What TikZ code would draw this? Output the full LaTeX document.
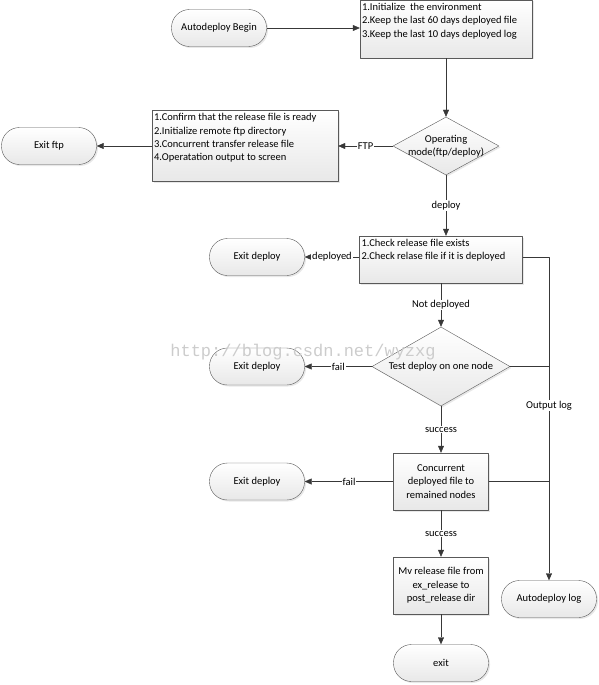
\documentclass[tikz,border=0pt]{standalone}
\usepackage{fontspec}
\setmainfont{Carlito}
\newfontfamily\markfont{Liberation Mono}
\usetikzlibrary{positioning,arrows.meta,shapes.geometric,shadows}
\tikzset{
  >={Triangle[length=7pt,width=6pt]},
  shade box/.style ={draw=black!65, top color=white, bottom color=black!9,
                     drop shadow={opacity=0.18, shadow xshift=1.5pt, shadow yshift=-1.5pt}},
  stepbox/.style   ={shade box, rectangle, inner sep=0pt},
  endcap/.style    ={shade box, rectangle, rounded corners=18pt, minimum width=95pt,
                     minimum height=37pt, font=\fontsize{10.5}{13.5}\selectfont},
  choice/.style    ={shade box, diamond, inner sep=0pt},
  steptext/.style  ={anchor=north west, align=left, inner xsep=2pt, inner ysep=3pt,
                     font=\fontsize{10.5}{13.4}\selectfont},
  midtext/.style   ={align=center, inner sep=0pt, font=\fontsize{10.5}{13.5}\selectfont},
  flow/.style      ={draw=black!78, ->},
  tag/.style       ={fill=white, inner sep=1pt, font=\fontsize{10.5}{12}\selectfont},
}

\begin{document}
\begin{tikzpicture}[x=1pt, y=-1pt, line join=round]
  \useasboundingbox (0,0) rectangle (599,685);

  %--- Start and set-up ---
  \node[endcap] (begin) at (219,28) {Autodeploy Begin};
  \node[stepbox, minimum width=172pt, minimum height=58pt] (setup) at (446,29) {};
  \node[steptext] at (setup.north west) {1.Initialize\ \ the environment\\2.Keep the last 60 days deployed file\\3.Keep the last 10 days deployed log};

  %--- Mode switch ---
  \node[choice, minimum width=106pt, minimum height=58pt] (mode) at (446,146) {};
  \node[midtext] at (mode) {Operating\\mode(ftp/deploy)};

  %--- FTP branch ---
  \node[stepbox, minimum width=186pt, minimum height=71pt] (ftp) at (245,146) {};
  \node[steptext] at (ftp.north west) {1.Confirm that the release file is ready\\2.Initialize remote ftp directory\\3.Concurrent transfer release file\\4.Operatation output to screen};
  \node[endcap] (exitftp) at (49,146) {Exit ftp};

  %--- Deploy branch ---
  \node[stepbox, minimum width=163pt, minimum height=47pt] (check) at (441,259.5) {};
  \node[steptext] at (check.north west) {1.Check release file exists\\2.Check relase file if it is deployed};
  \node[endcap] (exitchk) at (257,257) {Exit deploy};

  \node[choice, minimum width=138pt, minimum height=79pt] (test) at (441,366.5) {};
  \node[midtext] at (test) {Test deploy on one node};
  \node[endcap] (exittest) at (257,366.5) {Exit deploy};

  \node[stepbox, minimum width=95pt, minimum height=57pt] (spread) at (441,481.5) {};
  \node[midtext] at (spread) {Concurrent\\deployed file to\\remained nodes};
  \node[endcap] (exitspread) at (257,481.5) {Exit deploy};

  \node[stepbox, minimum width=95pt, minimum height=57pt] (move) at (441,585.5) {};
  \node[midtext] at (move) {Mv release file from\\ex\_release to\\post\_release dir};
  \node[endcap] (exit) at (441,663) {exit};

  \node[endcap] (log) at (549,599) {Autodeploy log};

  %--- Connectors ---
  \draw[flow] (begin) -- (begin -| setup.west);
  \draw[flow] (setup) -- (mode);
  \draw[flow] (mode) -- node[tag] {FTP} (ftp);
  \draw[flow] (ftp) -- (exitftp);
  \draw[flow] (mode.south) -- node[tag] {deploy} (mode.south |- check.north);
  \draw[flow] (check.west |- exitchk) -- node[tag] {deployed} (exitchk);
  \draw[flow] (check) -- node[tag] {Not deployed} (test);
  \draw[flow] (test) -- node[tag] {fail} (exittest);
  \draw[flow] (test) -- node[tag] {success} (spread);
  \draw[flow] (spread) -- node[tag] {fail} (exitspread);
  \draw[flow] (spread) -- node[tag] {success} (move);
  \draw[flow] (move) -- (exit);

  % output log bus on the right
  \draw[flow] (check.east |- exitchk) -| node[tag, pos=0.73] {Output log} (log.north);
  \draw[draw=black!78] (test.east) -- (test.east -| log.north);
  \draw[draw=black!78] (spread.east) -- (spread.east -| log.north);

  %--- Watermark ---
  \node[text=black!20, font=\markfont\fontsize{17}{17}\selectfont, inner sep=0pt] (mark) at (303,352) {http://blog.csdn.net/wyzxg};
\end{tikzpicture}
\end{document}
